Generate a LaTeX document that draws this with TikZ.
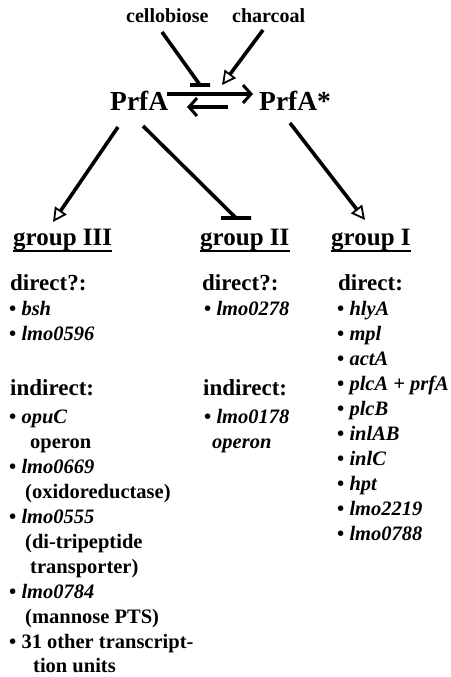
\documentclass[tikz,border=0pt]{standalone}
\usepackage{fontspec}
\setmainfont{Liberation Serif}
\usetikzlibrary{arrows.meta}
\newcommand\bitem[1]{\textbullet\ \textit{#1}}
\tikzset{
  txt/.style={anchor=base west, inner sep=0pt, text=black},
  toplbl/.style={txt, font=\fontsize{20}{24}\selectfont\bfseries},
  big/.style={txt, font=\fontsize{27.5}{30}\selectfont\bfseries},
  grp/.style={txt, font=\fontsize{25}{30}\selectfont\bfseries},
  head/.style={txt, font=\fontsize{23}{27}\selectfont\bfseries},
  entry/.style={txt, font=\fontsize{20.5}{25}\selectfont\bfseries},
  rulebar/.style={line width=2.2pt, draw=black, line cap=butt},
  wire/.style={line width=3.6pt, line cap=butt, draw=black},
  act/.style={wire, -{Triangle[open, length=14pt, width=14pt, line width=1.8pt]}},
  fwd/.style={wire, -{Straight Barb[length=8pt, width=18pt, line width=3pt]}},
}
\begin{document}
\begin{tikzpicture}[x=1pt, y=-1pt]
\useasboundingbox[fill=white] (0,0) rectangle (450,677);

% signals and the two PrfA forms
\node[toplbl] (cello) at (126,23) {cellobiose};
\node[toplbl] (charc) at (232,23) {charcoal};
\node[big] (prfa) at (110,110) {PrfA};
\node[big] (prfas) at (259,110) {PrfA*};

% regulated groups, underlined
\node[grp] (g3) at (13,245) {group III};
\node[grp] (g2) at (200,245) {group II};
\node[grp] (g1) at (331,245) {group I};
\path (g3.base west) ++(0,6) coordinate (u3a) (g3.base east) ++(0,6) coordinate (u3b);
\path (g2.base west) ++(0,6) coordinate (u2a) (g2.base east) ++(0,6) coordinate (u2b);
\path (g1.base west) ++(0,6) coordinate (u1a) (g1.base east) ++(0,6) coordinate (u1b);
\draw[rulebar] (u3a) -- (u3b);
\draw[rulebar] (u2a) -- (u2b);
\draw[rulebar] (u1a) -- (u1b);

% equilibrium arrows
\draw[fwd] ([shift={(57,-16)}]prfa.base west) -- ([shift={(-6,-16)}]prfas.base west);
\draw[fwd] ([shift={(-31,-3)}]prfas.base west) -- ([shift={(77,-3)}]prfa.base west);

% effectors
\draw[wire] ([shift={(36,9)}]cello.base west) -- ([shift={(90,-25)}]prfa.base west) ++(-10,0) -- ++(20,0);
\draw[act] ([shift={(31,7)}]charc.base west) -- ([shift={(-37,-25)}]prfas.base west);

% PrfA to the groups
\draw[act] ([shift={(8,17)}]prfa.base west) -- ([shift={(40,-23)}]g3.base west);
\draw[wire] ([shift={(33,16)}]prfa.base west) -- ([shift={(36,-27)}]g2.base west) ++(-15,0) -- ++(30,0);
\draw[act] ([shift={(31,13)}]prfas.base west) -- ([shift={(34,-25)}]g1.base west);

% group III
\node[head]  (l1)  at (10,290) {direct?:};
\node[entry] (l2)  at (9,315)  {\bitem{bsh}};
\node[entry] (l3)  at (9,340)  {\bitem{lmo0596}};
\node[head]  (l4)  at (10,395) {indirect:};
\node[entry] (l5)  at (9,423)  {\bitem{opuC}};
\node[entry] (l6)  at (30,448) {operon};
\node[entry] (l7)  at (9,473)  {\bitem{lmo0669}};
\node[entry] (l8)  at (25,498) {(oxidoreductase)};
\node[entry] (l9)  at (9,523)  {\bitem{lmo0555}};
\node[entry] (l10) at (25,548) {(di-tripeptide};
\node[entry] (l11) at (30,573) {transporter)};
\node[entry] (l12) at (9,598)  {\bitem{lmo0784}};
\node[entry] (l13) at (25,623) {(mannose PTS)};
\node[entry] (l14) at (9,648)  {\textbullet\ 31 other transcript-};
\node[entry] (l15) at (33,672) {tion units};

% group II
\node[head]  (m1) at (202,290) {direct?:};
\node[entry] (m2) at (204,315) {\bitem{lmo0278}};
\node[head]  (m3) at (203,395) {indirect:};
\node[entry] (m4) at (204,423) {\bitem{lmo0178}};
\node[entry] (m5) at (212,448) {\textit{operon}};

% group I
\node[head]  (r0)  at (338,290) {direct:};
\node[entry] (r1)  at (337,315) {\bitem{hlyA}};
\node[entry] (r2)  at (337,340) {\bitem{mpl}};
\node[entry] (r3)  at (337,365) {\bitem{actA}};
\node[entry] (r4)  at (337,390) {\bitem{plcA + prfA}};
\node[entry] (r5)  at (337,415) {\bitem{plcB}};
\node[entry] (r6)  at (337,440) {\bitem{inlAB}};
\node[entry] (r7)  at (337,465) {\bitem{inlC}};
\node[entry] (r8)  at (337,490) {\bitem{hpt}};
\node[entry] (r9)  at (337,515) {\bitem{lmo2219}};
\node[entry] (r10) at (337,540) {\bitem{lmo0788}};
\end{tikzpicture}
\end{document}
